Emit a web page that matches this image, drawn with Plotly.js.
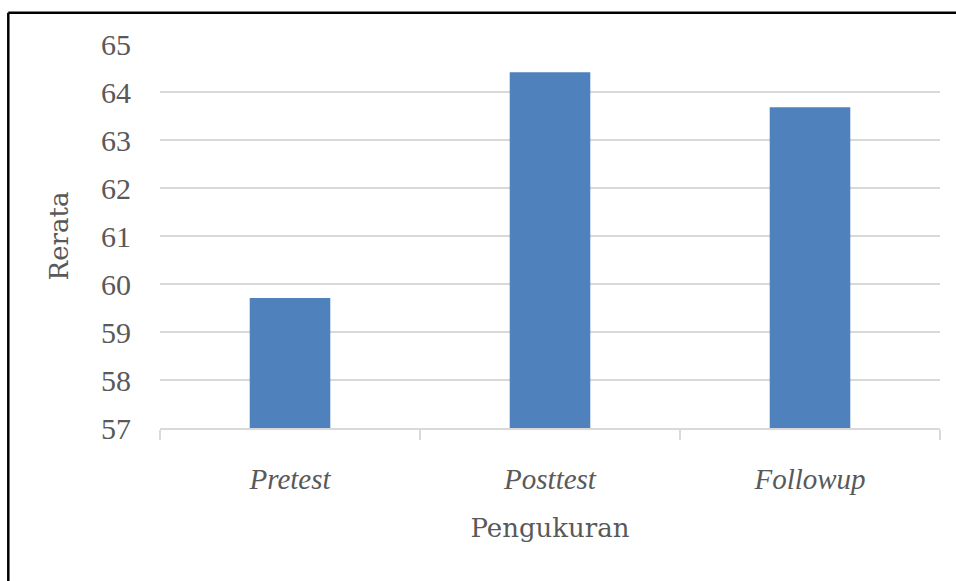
<!DOCTYPE html>
<html>
<head>
<meta charset="utf-8">
<script src="https://cdn.plot.ly/plotly-3.0.1.min.js"></script>
<style>
  html, body { margin: 0; padding: 0; background: #fff; }
  #chart { width: 956px; height: 581px; }
</style>
</head>
<body>
<div id="chart"></div>
<script>
const categories = ["Pretest", "Posttest", "Followup"];
const rerata = [59.71, 64.41, 63.68];
const yTicks = [57, 58, 59, 60, 61, 62, 63, 64, 65];
const xTitle = "Pengukuran";
const yTitle = "Rerata";

const textColor = "#595959";
const gridColor = "#D9D9D9";

const trace = {
  type: "bar",
  x: categories,
  y: rerata,
  marker: { color: "#4F81BD" },
  hoverinfo: "x+y"
};

// plot area pixel geometry: x 160..940, y 44..428
const L = 160, R = 940, T = 44, B = 428;
const px = v => (v - L) / (R - L);
const py = v => (B - v) / (B - T);

const layout = {
  width: 956,
  height: 581,
  margin: { l: L, r: 956 - R, t: T, b: 581 - B, pad: 0 },
  paper_bgcolor: "#ffffff",
  plot_bgcolor: "#ffffff",
  showlegend: false,
  bargap: 0.69,
  xaxis: {
    type: "category",
    automargin: false,
    showline: true,
    linecolor: gridColor,
    linewidth: 1.5,
    ticks: "outside",
    tickson: "boundaries",
    ticklen: 10,
    tickcolor: gridColor,
    tickwidth: 1.5,
    ticklabelstandoff: 25,
    tickfont: { family: "Liberation Serif, serif", size: 29, color: textColor, style: "italic" },
    title: { text: xTitle, standoff: 24, font: { family: "DejaVu Serif", size: 26, color: textColor } }
  },
  yaxis: {
    range: [57, 65],
    automargin: false,
    tickvals: yTicks,
    ticktext: yTicks.map(String),
    showgrid: true,
    gridcolor: gridColor,
    gridwidth: 1.5,
    zeroline: false,
    showline: false,
    ticks: "",
    ticklabelstandoff: 28,
    tickfont: { family: "Liberation Serif, serif", size: 30, color: textColor },
    title: { text: yTitle, standoff: 24, font: { family: "DejaVu Serif", size: 26, color: textColor } }
  },
  shapes: [
    { type: "line", xref: "paper", yref: "paper",
      x0: px(8.3), x1: px(8.3), y0: py(12.8), y1: py(600),
      line: { color: "#000000", width: 2.5 } },
    { type: "line", xref: "paper", yref: "paper",
      x0: px(8.3), x1: px(970), y0: py(12.8), y1: py(12.8),
      line: { color: "#000000", width: 2.5 } }
  ]
};

Plotly.newPlot("chart", [trace], layout, { displayModeBar: false, staticPlot: true });
</script>
</body>
</html>
